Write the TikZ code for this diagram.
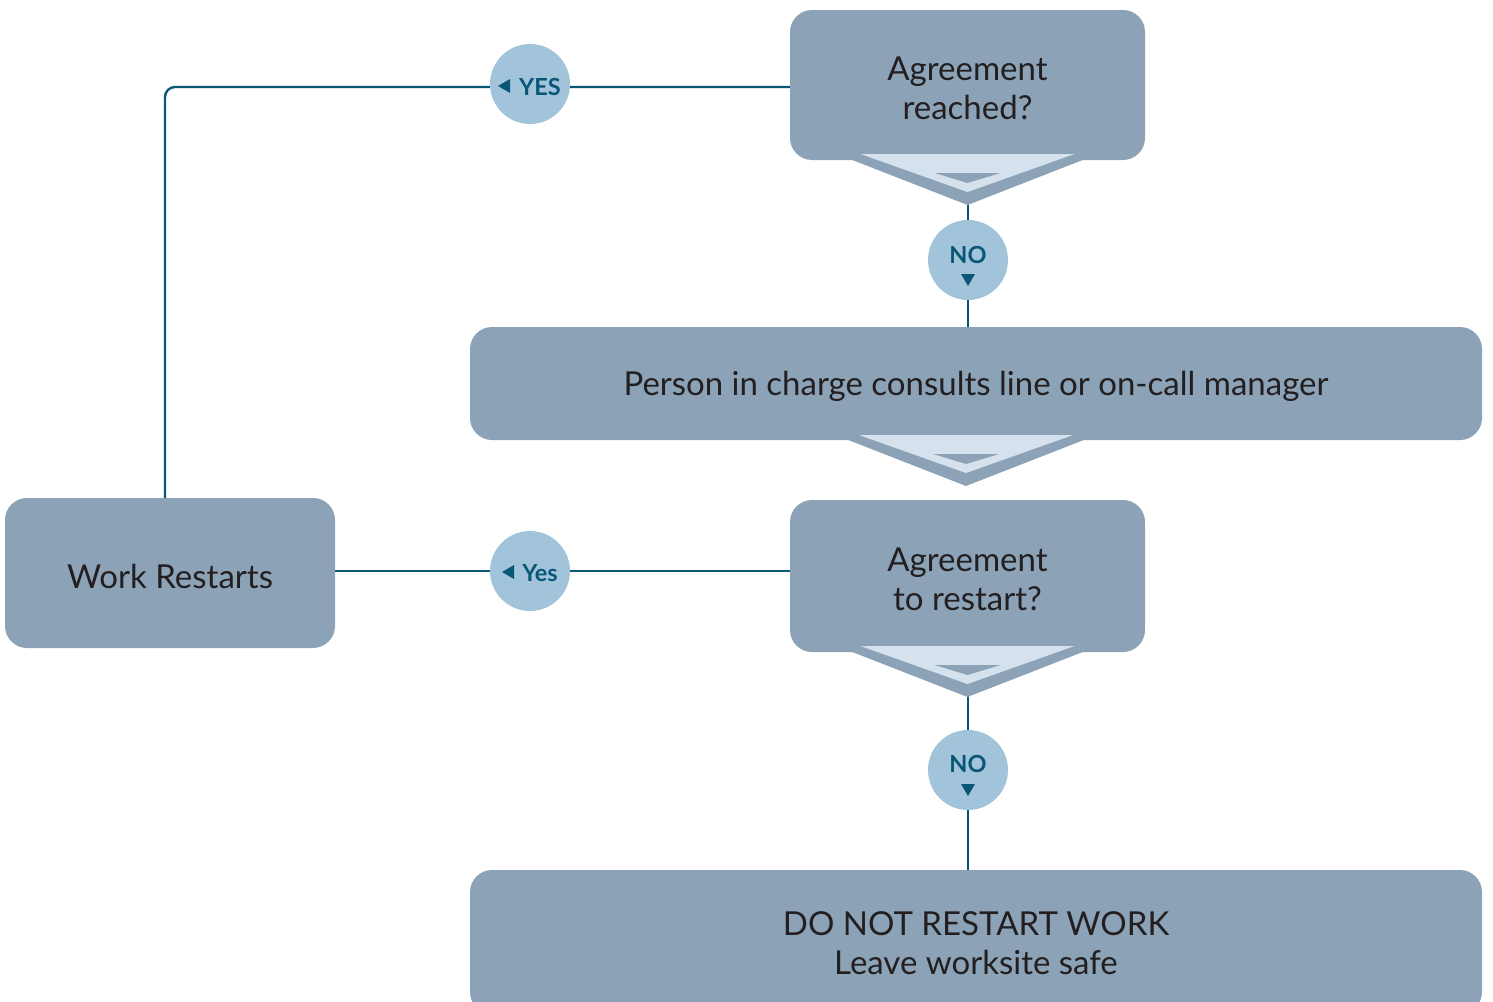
\documentclass[tikz,border=0pt]{standalone}
\usepackage{fontspec}
\setmainfont{Lato}
\usetikzlibrary{backgrounds,calc}
\definecolor{boxc}{HTML}{8CA3B7}
\definecolor{lightc}{HTML}{D5E2EE}
\definecolor{circc}{HTML}{A2C4DB}
\definecolor{linec}{HTML}{0A5677}
\definecolor{txtc}{HTML}{231F20}
\tikzset{
  stepbox/.style={rectangle, rounded corners=22pt, fill=boxc, draw=none, inner sep=0pt},
  boxtext/.style={text=txtc, font=\fontsize{33}{39}\selectfont, align=center, inner sep=0pt, yshift=-3pt},
  badge/.style={circle, fill=circc, draw=none, minimum size=80pt, inner sep=0pt},
  badgetext/.style={text=linec, font=\fontsize{23.5}{26}\selectfont\bfseries, inner sep=0pt},
  conn/.style={draw=linec, line width=2.4pt},
  marker/.style={fill=linec, draw=none},
  chev/.pic={
    \fill[boxc] (-128,-5) -- (128,-5) -- (0,45) -- cycle;
    \fill[lightc] (-107,-6) -- (107,-6) -- (0,32) -- cycle;
    \fill[boxc] (-33,13) -- (33,13) -- (0,23) -- cycle;
  }
}
\begin{document}
\begin{tikzpicture}[x=1pt,y=-1pt]
\useasboundingbox (0,0) rectangle (1493,1001);
\clip (0,0) rectangle (1493,1001);
% boxes
\node[stepbox, minimum width=355pt, minimum height=150pt,
  label={[boxtext]center:{Agreement\\reached?}}] (A) at (967.5,85) {};
\node[stepbox, minimum width=1012pt, minimum height=113pt,
  label={[boxtext]center:{Person in charge consults line or on-call manager}}] (B) at (976,383.5) {};
\node[stepbox, minimum width=355pt, minimum height=152pt,
  label={[boxtext]center:{Agreement\\to restart?}}] (C) at (967.5,576) {};
\node[stepbox, minimum width=1012pt, minimum height=144pt,
  label={[boxtext, yshift=2pt]center:{DO NOT RESTART WORK\\Leave worksite safe}}] (D) at (976,942) {};
\node[stepbox, minimum width=330pt, minimum height=150pt,
  label={[boxtext]center:{Work Restarts}}] (W) at (170,573) {};
% chevrons
\pic at (967.5,160) {chev};
\pic at (966,441) {chev};
\pic at (967.5,652) {chev};
% badges
\node[badge] (yes1) at (530,84) {};
\node[badge] (no1) at (968,260) {};
\node[badge] (yes2) at (530,571) {};
\node[badge] (no2) at (968,770) {};
\node[badgetext] (yes1t) at (540,87) {YES};
\fill[marker] (498,86) -- (510,79) -- (510,93) -- cycle;
\node[badgetext] (yes2t) at (540,573) {Yes};
\fill[marker] (502,572) -- (514,565) -- (514,579) -- cycle;
\node[badgetext] (no1t) at (968,255) {NO};
\fill[marker] (961,274) -- (975,274) -- (968,286) -- cycle;
\node[badgetext] (no2t) at (968,764) {NO};
\fill[marker] (961,784) -- (975,784) -- (968,796) -- cycle;
% connectors
\begin{scope}[on background layer]
\draw[conn] (no1 |- A.south) -- (no1) -- (no1 |- B.north);
\draw[conn] (no2 |- C.south) -- (no2) -- (no2 |- D.north);
\draw[conn, rounded corners=10pt] (A.west |- 0,87) -- (yes1 |- 0,87) -- (165,87) -- (165,500);
\draw[conn] (yes2 -| C.west) -- (yes2) -- (yes2 -| W.east);
\end{scope}
\end{tikzpicture}
\end{document}
